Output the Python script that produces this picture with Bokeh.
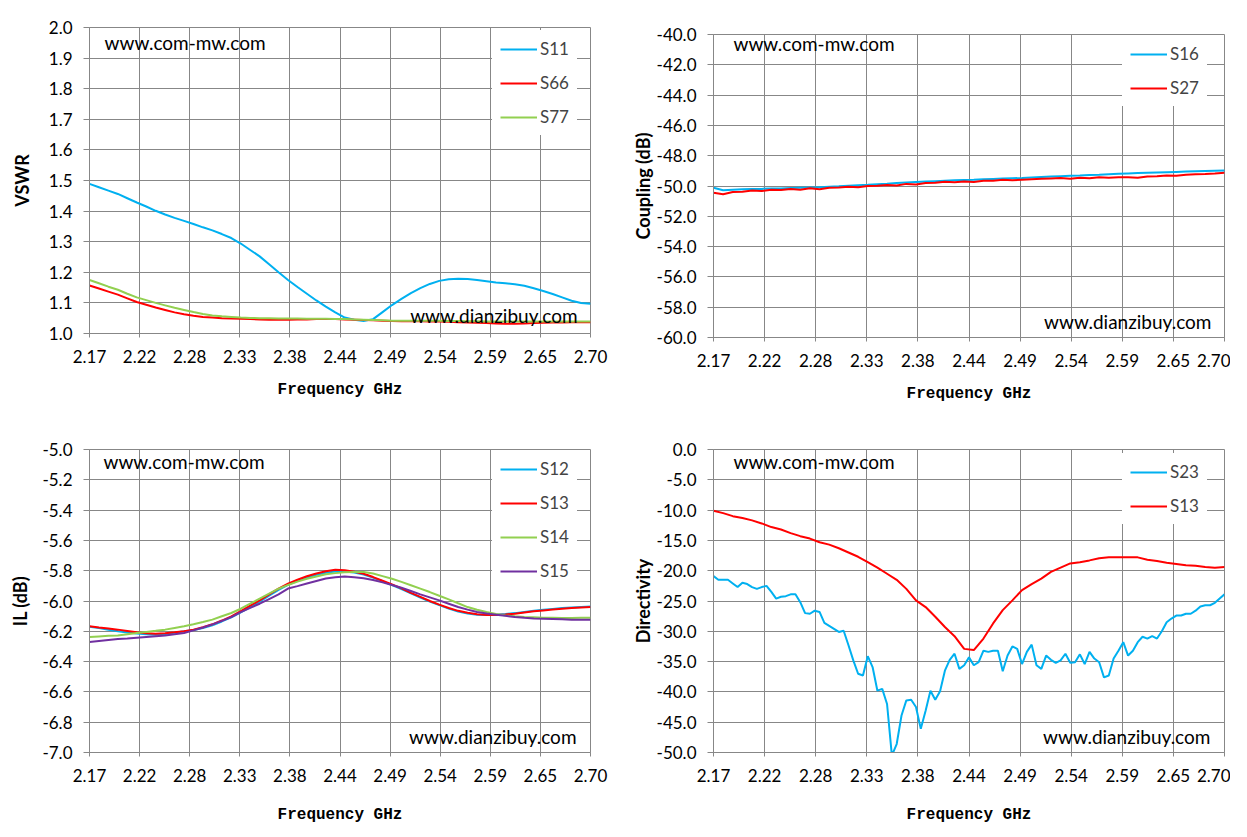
from bokeh.plotting import figure
from bokeh.models import Range1d, FixedTicker, PrintfTickFormatter, Label, Spacer
from bokeh.layouts import column, row
from bokeh.embed import file_html
from bokeh.resources import INLINE

# ---------------- data ----------------
XTICK_LABELS = ["2.17", "2.22", "2.28", "2.33", "2.38", "2.44", "2.49", "2.54", "2.59", "2.65", "2.70"]

FREQ = [2.17, 2.18, 2.19, 2.20, 2.21, 2.22, 2.23, 2.24, 2.25, 2.26,
        2.27, 2.28, 2.29, 2.30, 2.31, 2.32, 2.33, 2.34, 2.35, 2.36,
        2.37, 2.38, 2.39, 2.40, 2.41, 2.42, 2.43, 2.44, 2.45, 2.46,
        2.47, 2.48, 2.49, 2.50, 2.51, 2.52, 2.53, 2.54, 2.55, 2.56,
        2.57, 2.58, 2.59, 2.60, 2.61, 2.62, 2.63, 2.64, 2.65, 2.66,
        2.67, 2.68, 2.69, 2.70]

FREQ_FINE = [2.170, 2.175, 2.180, 2.185, 2.190, 2.195, 2.200, 2.205, 2.210, 2.215,
             2.220, 2.225, 2.230, 2.235, 2.240, 2.245, 2.250, 2.255, 2.260, 2.265,
             2.270, 2.275, 2.280, 2.285, 2.290, 2.295, 2.300, 2.305, 2.310, 2.315,
             2.320, 2.325, 2.330, 2.335, 2.340, 2.345, 2.350, 2.355, 2.360, 2.365,
             2.370, 2.375, 2.380, 2.385, 2.390, 2.395, 2.400, 2.405, 2.410, 2.415,
             2.420, 2.425, 2.430, 2.435, 2.440, 2.445, 2.450, 2.455, 2.460, 2.465,
             2.470, 2.475, 2.480, 2.485, 2.490, 2.495, 2.500, 2.505, 2.510, 2.515,
             2.520, 2.525, 2.530, 2.535, 2.540, 2.545, 2.550, 2.555, 2.560, 2.565,
             2.570, 2.575, 2.580, 2.585, 2.590, 2.595, 2.600, 2.605, 2.610, 2.615,
             2.620, 2.625, 2.630, 2.635, 2.640, 2.645, 2.650, 2.655, 2.660, 2.665,
             2.670, 2.675, 2.680, 2.685, 2.690, 2.695, 2.700]

# VSWR
S11 = [1.489, 1.478, 1.467, 1.456, 1.442, 1.428, 1.415, 1.401, 1.389, 1.378,
       1.368, 1.358, 1.347, 1.337, 1.325, 1.312, 1.294, 1.273, 1.252, 1.226,
       1.200, 1.175, 1.152, 1.130, 1.108, 1.088, 1.069, 1.052, 1.045, 1.041,
       1.047, 1.070, 1.093, 1.113, 1.132, 1.148, 1.162, 1.172, 1.177, 1.179,
       1.178, 1.175, 1.171, 1.167, 1.164, 1.161, 1.156, 1.148, 1.139, 1.129,
       1.118, 1.107, 1.100, 1.097]
S66 = [1.157, 1.147, 1.137, 1.127, 1.115, 1.103, 1.094, 1.085, 1.077, 1.069,
       1.063, 1.058, 1.054, 1.052, 1.050, 1.049, 1.048, 1.047, 1.046, 1.045,
       1.045, 1.045, 1.046, 1.046, 1.047, 1.047, 1.047, 1.046, 1.045, 1.044,
       1.043, 1.042, 1.041, 1.040, 1.040, 1.040, 1.039, 1.039, 1.038, 1.037,
       1.036, 1.035, 1.034, 1.033, 1.032, 1.032, 1.033, 1.034, 1.035, 1.036,
       1.036, 1.037, 1.037, 1.037]
S77 = [1.175, 1.164, 1.153, 1.143, 1.130, 1.118, 1.109, 1.100, 1.092, 1.084,
       1.077, 1.070, 1.064, 1.059, 1.056, 1.054, 1.052, 1.051, 1.050, 1.050,
       1.049, 1.049, 1.049, 1.048, 1.048, 1.048, 1.047, 1.047, 1.046, 1.045,
       1.044, 1.043, 1.042, 1.042, 1.042, 1.042, 1.042, 1.042, 1.041, 1.041,
       1.040, 1.040, 1.039, 1.039, 1.039, 1.039, 1.039, 1.039, 1.039, 1.039,
       1.039, 1.039, 1.039, 1.039]

# Coupling (dB)
S16 = [-50.12, -50.28, -50.24, -50.22, -50.20, -50.19, -50.17, -50.16, -50.14, -50.12,
       -50.10, -50.08, -50.05, -50.02, -49.98, -49.95, -49.92, -49.88, -49.85, -49.81,
       -49.77, -49.74, -49.71, -49.68, -49.65, -49.62, -49.60, -49.58, -49.55, -49.53,
       -49.51, -49.49, -49.47, -49.44, -49.41, -49.38, -49.35, -49.32, -49.30, -49.27,
       -49.25, -49.22, -49.19, -49.17, -49.15, -49.13, -49.11, -49.09, -49.07, -49.05,
       -49.03, -49.01, -48.99, -48.97]
S27 = [-50.45, -50.55, -50.40, -50.38, -50.30, -50.33, -50.25, -50.27, -50.20, -50.24,
       -50.15, -50.22, -50.12, -50.10, -50.05, -50.08, -50.00, -49.98, -49.94, -49.97,
       -49.86, -49.90, -49.80, -49.78, -49.72, -49.76, -49.70, -49.74, -49.65, -49.66,
       -49.58, -49.62, -49.58, -49.55, -49.52, -49.50, -49.48, -49.52, -49.45, -49.49,
       -49.42, -49.45, -49.43, -49.42, -49.46, -49.38, -49.35, -49.30, -49.33, -49.25,
       -49.22, -49.20, -49.17, -49.13]

# IL (dB)
S12 = [-6.170, -6.178, -6.190, -6.200, -6.208, -6.214, -6.220, -6.222, -6.218, -6.210,
       -6.200, -6.192, -6.178, -6.160, -6.135, -6.108, -6.075, -6.040, -6.004, -5.965,
       -5.927, -5.893, -5.867, -5.845, -5.827, -5.813, -5.806, -5.806, -5.812, -5.825,
       -5.846, -5.870, -5.895, -5.922, -5.950, -5.977, -6.003, -6.027, -6.050, -6.070,
       -6.083, -6.090, -6.092, -6.090, -6.086, -6.080, -6.072, -6.064, -6.058, -6.052,
       -6.047, -6.043, -6.039, -6.036]
S13_IL = [-6.167, -6.175, -6.182, -6.189, -6.198, -6.207, -6.213, -6.216, -6.213, -6.207,
          -6.199, -6.189, -6.173, -6.154, -6.129, -6.101, -6.066, -6.031, -5.996, -5.956,
          -5.918, -5.885, -5.860, -5.837, -5.818, -5.803, -5.794, -5.797, -5.807, -5.820,
          -5.842, -5.866, -5.890, -5.917, -5.946, -5.973, -6.000, -6.024, -6.046, -6.065,
          -6.078, -6.087, -6.092, -6.093, -6.089, -6.084, -6.076, -6.068, -6.062, -6.056,
          -6.051, -6.047, -6.043, -6.040]
S14 = [-6.238, -6.234, -6.230, -6.227, -6.219, -6.211, -6.204, -6.197, -6.189, -6.178,
       -6.167, -6.154, -6.139, -6.123, -6.101, -6.079, -6.051, -6.018, -5.985, -5.952,
       -5.919, -5.894, -5.872, -5.853, -5.838, -5.824, -5.816, -5.811, -5.808, -5.808,
       -5.819, -5.836, -5.853, -5.874, -5.896, -5.918, -5.941, -5.965, -5.989, -6.015,
       -6.040, -6.058, -6.073, -6.085, -6.095, -6.101, -6.106, -6.108, -6.110, -6.111,
       -6.112, -6.112, -6.111, -6.110]
S15 = [-6.271, -6.264, -6.257, -6.251, -6.247, -6.242, -6.237, -6.232, -6.227, -6.220,
       -6.211, -6.194, -6.175, -6.154, -6.131, -6.106, -6.073, -6.045, -6.018, -5.987,
       -5.956, -5.918, -5.902, -5.885, -5.868, -5.852, -5.843, -5.839, -5.843, -5.850,
       -5.862, -5.877, -5.894, -5.912, -5.934, -5.956, -5.976, -5.996, -6.018, -6.040,
       -6.057, -6.073, -6.082, -6.090, -6.098, -6.106, -6.111, -6.115, -6.117, -6.119,
       -6.121, -6.123, -6.123, -6.123]

# Directivity
S13_DIR = [-10.1, -10.5, -11.0, -11.3, -11.7, -12.2, -12.8, -13.2, -13.8, -14.3,
           -14.7, -15.3, -15.7, -16.3, -17.0, -17.7, -18.6, -19.5, -20.5, -21.5,
           -23.0, -24.9, -26.0, -27.6, -29.3, -30.8, -32.9, -33.1, -31.2, -28.7,
           -26.5, -24.9, -23.2, -22.2, -21.3, -20.2, -19.5, -18.8, -18.6, -18.3,
           -17.95, -17.8, -17.8, -17.8, -17.8, -18.2, -18.4, -18.7, -18.9, -19.1,
           -19.2, -19.4, -19.5, -19.4]
S23 = [-20.9, -21.5, -21.5, -21.5, -22.1, -22.7, -22.0, -22.2, -22.7, -23.0,
       -22.7, -22.5, -23.5, -24.6, -24.3, -24.2, -23.9, -23.9, -25.2, -27.0,
       -27.1, -26.6, -26.8, -28.6, -29.1, -29.6, -30.1, -29.9, -32.3, -34.8,
       -37.0, -37.3, -34.1, -35.9, -39.8, -39.5, -42.0, -50.5, -48.6, -43.9,
       -41.4, -41.3, -42.5, -46.1, -43.1, -39.8, -41.3, -39.9, -36.5, -34.7,
       -33.7, -36.2, -35.6, -34.3, -35.6, -35.1, -33.2, -33.4, -33.2, -33.2,
       -36.6, -34.0, -32.5, -32.9, -35.4, -33.4, -32.2, -35.6, -36.2, -34.0,
       -34.7, -35.2, -34.8, -33.7, -35.2, -35.1, -33.8, -35.4, -33.4, -34.5,
       -35.1, -37.6, -37.3, -34.5, -33.2, -31.8, -34.0, -33.2, -31.8, -30.9,
       -31.2, -30.8, -31.2, -30.0, -28.5, -27.9, -27.4, -27.4, -27.1, -27.1,
       -26.6, -25.9, -25.7, -25.7, -25.3, -24.6, -23.9]

# ---------------- styling ----------------
BLUE = "#00B0F0"
RED = "#FF0000"
GREEN = "#92D050"
PURPLE = "#7030A0"
GRID = "#878787"
TICK_FONT = "Lato"
XMIN, XMAX = 2.17, 2.70
XTICK_POS = [XMIN + i * (XMAX - XMIN) / 10 for i in range(11)]


def make_panel(ylo, yhi, ystep_count, ylabel, fw, fh, bl, bt, br, bb,
               ylab_standoff, xlab_standoff):
    p = figure(frame_width=fw, frame_height=fh,
               x_range=Range1d(XMIN, XMAX), y_range=Range1d(ylo, yhi),
               output_backend="svg", toolbar_location=None,
               min_border_left=bl, min_border_top=bt,
               min_border_right=br, min_border_bottom=bb,
               background_fill_color="white", border_fill_color="white")
    p.outline_line_color = GRID
    p.outline_line_width = 1
    xt = FixedTicker(ticks=XTICK_POS)
    yt = FixedTicker(ticks=[ylo + i * (yhi - ylo) / ystep_count for i in range(ystep_count + 1)])
    p.xaxis.ticker = xt
    p.yaxis.ticker = yt
    p.xgrid.ticker = xt
    p.ygrid.ticker = yt
    p.xaxis.major_label_overrides = {pos: lab for pos, lab in zip(XTICK_POS, XTICK_LABELS)}
    p.yaxis.formatter = PrintfTickFormatter(format="%.1f")
    for g in (p.xgrid, p.ygrid):
        g.grid_line_color = GRID
        g.grid_line_width = 1
    for ax in (p.xaxis, p.yaxis):
        ax.axis_line_color = GRID
        ax.major_tick_line_color = GRID
        ax.minor_tick_line_color = None
        ax.major_tick_in = 0
        ax.major_label_text_font = TICK_FONT
        ax.major_label_text_font_size = "17px"
        ax.major_label_text_color = "black"
    p.xaxis.major_tick_out = 4
    p.yaxis.major_tick_out = 6
    p.xaxis.major_label_standoff = 12
    p.yaxis.major_label_standoff = 11
    p.yaxis.axis_label = ylabel
    p.yaxis.axis_label_text_font = TICK_FONT
    p.yaxis.axis_label_text_font_style = "bold"
    p.yaxis.axis_label_text_font_size = "18px"
    p.yaxis.axis_label_text_color = "black"
    p.yaxis.axis_label_standoff = ylab_standoff
    p.xaxis.axis_label = "Frequency GHz"
    p.xaxis.axis_label_text_font = "Liberation Mono"
    p.xaxis.axis_label_text_font_style = "bold"
    p.xaxis.axis_label_text_font_size = "16px"
    p.xaxis.axis_label_text_color = "black"
    p.xaxis.axis_label_standoff = xlab_standoff
    return p


def style_legend(p, loc):
    lg = p.legend[0]
    lg.location = loc
    lg.margin = 0
    lg.padding = 8
    lg.spacing = 13
    lg.glyph_width = 37
    lg.glyph_height = 20
    lg.label_height = 20
    lg.label_standoff = 3
    lg.label_text_font = TICK_FONT
    lg.label_text_font_size = "17px"
    lg.border_line_alpha = 0
    lg.background_fill_color = "white"
    lg.background_fill_alpha = 1.0


def watermarks(p, x1, y1, x2, y2):
    p.add_layout(Label(x=x1, y=y1, text="www.com-mw.com", text_font=TICK_FONT,
                       text_font_size="19px", text_align="left", text_baseline="alphabetic",
                       text_color="black"))
    p.add_layout(Label(x=x2, y=y2, text="www.dianzibuy.com", text_font=TICK_FONT,
                       text_font_size="19px", text_align="right", text_baseline="alphabetic",
                       text_color="black"))


LW = 2

# Panel 1: VSWR
p1 = make_panel(1.0, 2.0, 10, "VSWR", 501, 306, 89, 27, 26, 87, 13, 15)
p1.line(FREQ, S11, line_color=BLUE, line_width=LW, legend_label="S11")
p1.line(FREQ, S66, line_color=RED, line_width=LW, legend_label="S66")
p1.line(FREQ, S77, line_color=GREEN, line_width=LW, legend_label="S77")
style_legend(p1, (403, 198))
watermarks(p1, 2.1859, 1.951, 2.6863, 1.059)

# Panel 2: Coupling
p2 = make_panel(-60.0, -40.0, 10, "Coupling (dB)", 511, 303, 97, 26, 6, 83, 0, 15)
p2.line(FREQ, S16, line_color=BLUE, line_width=LW, legend_label="S16")
p2.line(FREQ, S27, line_color=RED, line_width=LW, legend_label="S27")
style_legend(p2, (409, 231))
watermarks(p2, 2.1907, -40.59, 2.6865, -58.94)

# Panel 3: IL
p3 = make_panel(-7.0, -5.0, 10, "IL (dB)", 501, 303, 89, 29, 26, 76, 8, 21)
p3.line(FREQ, S12, line_color=BLUE, line_width=LW, legend_label="S12")
p3.line(FREQ, S13_IL, line_color=RED, line_width=LW, legend_label="S13")
p3.line(FREQ, S14, line_color=GREEN, line_width=LW, legend_label="S14")
p3.line(FREQ, S15, line_color=PURPLE, line_width=LW, legend_label="S15")
style_legend(p3, (403, 163))
watermarks(p3, 2.1848, -5.079, 2.6852, -6.894)

# Panel 4: Directivity
p4 = make_panel(-50.0, 0.0, 10, "Directivity", 511, 303, 97, 29, 6, 76, 0, 21)
p4.line(FREQ_FINE, S23, line_color=BLUE, line_width=LW, legend_label="S23")
p4.line(FREQ, S13_DIR, line_color=RED, line_width=LW, legend_label="S13")
style_legend(p4, (409, 228))
watermarks(p4, 2.1907, -2.06, 2.6854, -47.36)

layout = column(row(p1, column(Spacer(height=8), p2)), row(p3, p4))

open("out.html", "w").write(file_html(layout, INLINE))
